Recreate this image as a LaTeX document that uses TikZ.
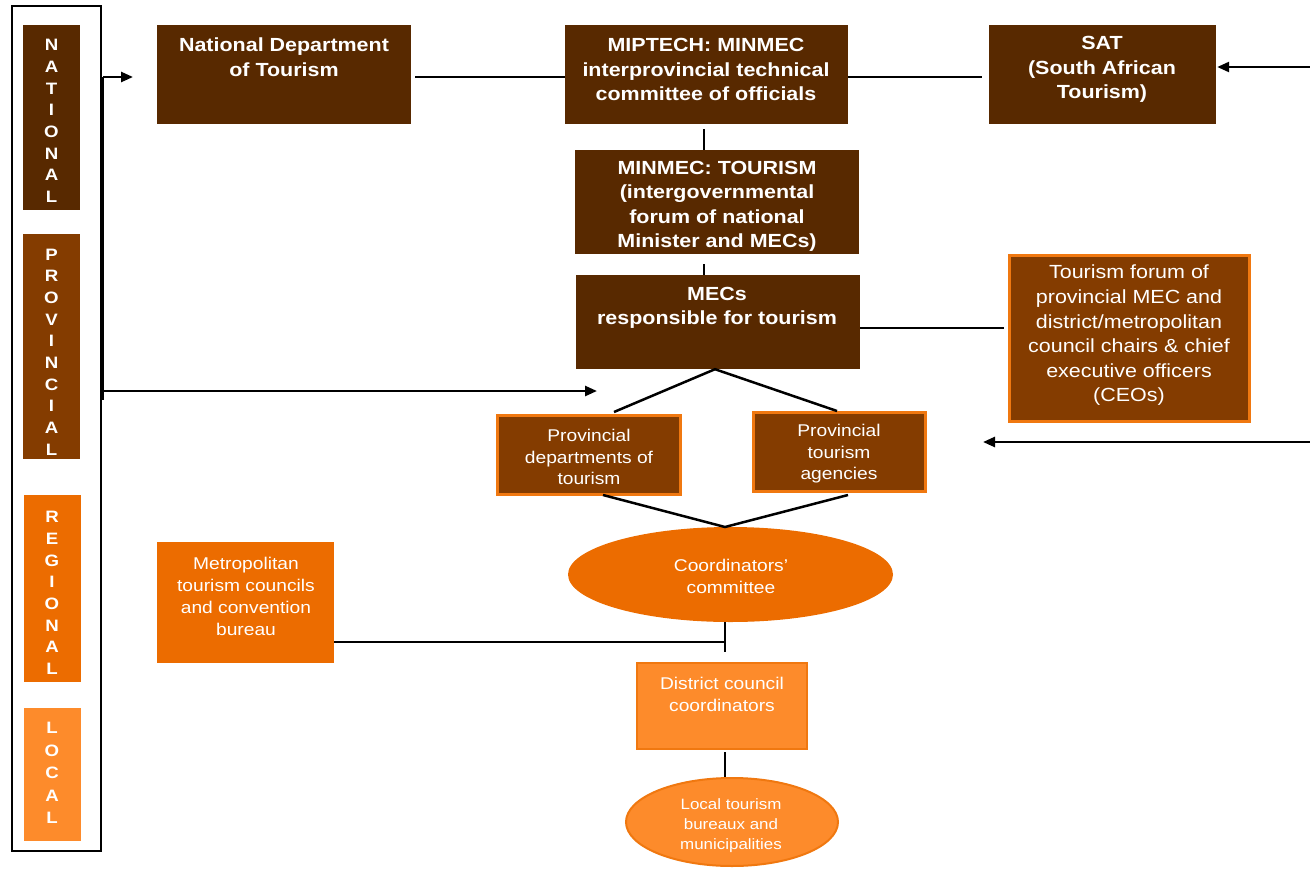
\documentclass[tikz,border=0pt]{standalone}
\usepackage{fontspec}
\setmainfont{Liberation Sans}[FakeStretch=1.13]
\usetikzlibrary{arrows.meta,shapes.geometric,calc}
\definecolor{dbrown}{RGB}{88,41,0}
\definecolor{mbrown}{RGB}{132,60,0}
\definecolor{oran}{RGB}{236,108,0}
\definecolor{lorange}{RGB}{253,139,43}
\definecolor{bord}{RGB}{240,120,16}
\begin{document}
\begin{tikzpicture}[x=1pt,y=-1pt,
  box/.style={rectangle, inner sep=0, draw=none},
  dbox/.style={box, fill=dbrown},
  mbox/.style={box, fill=mbrown, draw=bord, line width=3pt},
  txt/.style={inner sep=0, align=center, text=white},
  bigb/.style={txt, font=\fontsize{19}{24.5}\selectfont\bfseries},
  regt/.style={txt, font=\fontsize{19}{24.6}\selectfont},
  smallt/.style={txt, font=\fontsize{17}{21.5}\selectfont},
  tinyt/.style={txt, font=\fontsize{15}{20}\selectfont},
  lett/.style={txt, font=\fontsize{16.5}{21.7}\selectfont\bfseries},
  conn/.style={line width=2.5pt, black},
  arr/.style={conn, -{Triangle[length=12pt,width=10pt]}}]
\useasboundingbox (0,0) rectangle (1310,868);

% left level column
\node[draw=black, line width=2pt, rectangle, inner sep=0, minimum width=89, minimum height=845] (frame) at (56.5,428.5) {};
\node[box, fill=dbrown, minimum width=57, minimum height=185] (natl) at (51.5,117.5) {};
\node[lett] (natl-t) at (51.5,121) {N\\A\\T\\I\\O\\N\\A\\L};
\node[box, fill=mbrown, minimum width=57, minimum height=225] (prov) at (51.5,346.5) {};
\node[lett] (prov-t) at (51.5,352) {P\\R\\O\\V\\I\\N\\C\\I\\A\\L};
\node[box, fill=oran, minimum width=57, minimum height=187] (regl) at (52,588.5) {};
\node[lett] (regl-t) at (52,593) {R\\E\\G\\I\\O\\N\\A\\L};
\node[box, fill=lorange, minimum width=57, minimum height=133] (locl) at (52,774.5) {};
\node[lett, font=\fontsize{16.5}{22.5}\selectfont\bfseries] (locl-t) at (52,773) {L\\O\\C\\A\\L};

% national level
\node[dbox, minimum width=254, minimum height=99] (nat) at (284,74.5) {};
\node[bigb] (nat-t) at (284,57) {National Department\\of Tourism};
\node[dbox, minimum width=283, minimum height=99] (mip) at (706.5,74.5) {};
\node[bigb] (mip-t) at (706,69.5) {MIPTECH: MINMEC\\interprovincial technical\\committee of officials};
\node[dbox, minimum width=227, minimum height=99] (sat) at (1102.5,74.5) {};
\node[bigb] (sat-t) at (1102,69.5) {SAT\\(South African\\Tourism)};
\node[dbox, minimum width=284, minimum height=104] (minmec) at (717,202) {};
\node[bigb] (minmec-t) at (717,206.5) {MINMEC: TOURISM\\(intergovernmental\\forum of national\\Minister and MECs)};
\node[dbox, minimum width=284, minimum height=94] (mecs) at (718,322) {};
\node[bigb] (mecs-t) at (717,308) {MECs\\responsible for tourism};

% provincial level
\node[mbox, minimum width=240, minimum height=166] (forum) at (1129.5,338.5) {};
\node[regt] (forum-t) at (1129,335.5) {Tourism forum of\\provincial MEC and\\district/metropolitan\\council chairs \& chief\\executive officers\\(CEOs)};
\node[mbox, minimum width=183, minimum height=79] (pd) at (589,455) {};
\node[smallt] (pd-t) at (589,457) {Provincial\\departments of\\tourism};
\node[mbox, minimum width=172, minimum height=79] (pa) at (839.5,452) {};
\node[smallt] (pa-t) at (839,454) {Provincial\\tourism\\agencies};

% regional level
\node[ellipse, inner sep=0, fill=oran, minimum width=325, minimum height=95] (coord) at (730.5,574.5) {};
\node[smallt] (coord-t) at (731,576.5) {Coordinators’\\committee};
\node[box, fill=oran, minimum width=177, minimum height=121] (metro) at (245.5,602.5) {};
\node[smallt, font=\fontsize{17}{22}\selectfont] (metro-t) at (246,596) {Metropolitan\\tourism councils\\and convention\\bureau};

% local level
\node[box, fill=lorange, draw=bord, line width=2pt, minimum width=170, minimum height=86] (dist) at (722,706) {};
\node[smallt, font=\fontsize{17}{22}\selectfont] (dist-t) at (722,694) {District council\\coordinators};
\node[ellipse, inner sep=0, fill=lorange, draw=bord, line width=2pt, minimum width=212, minimum height=88] (local) at (732,822) {};
\node[tinyt] (local-t) at (731,826) {Local tourism\\bureaux and\\municipalities};

% helper coordinates
\coordinate (vx) at (704,0);
\coordinate (lvtop) at (103,77);
\coordinate (lvbot) at (103,400);
\coordinate (lvmid) at (103,391);
\coordinate (natarr) at (133,77);
\coordinate (provarr) at (597,391);
\coordinate (satin) at (1310,67);
\coordinate (provin) at (1310,442);
\coordinate (provtip) at (983,442);
\coordinate (hy1) at (0,328);
\coordinate (pdtop) at (614,412);
\coordinate (patop) at (837,411);
\coordinate (pdbot) at (603,495);
\coordinate (pabot) at (848,495);
\coordinate (apex) at (725,527);
\coordinate (hy2) at (0,642);
\coordinate (tee) at (725,642);
\coordinate (teebot) at (725,652);
\coordinate (teetop) at (725,622);
\coordinate (dx) at (725,0);

% connectors
\draw[conn] (lvtop) -- (lvbot);
\draw[arr] (lvtop) -- (natarr);
\draw[arr] (lvmid) -- (provarr);
\draw[conn, shorten <=4pt] (nat.east |- 0,77) -- (mip.west |- 0,77);
\draw[conn, shorten >=7pt] (mip.east |- 0,77) -- (sat.west |- 0,77);
\draw[arr] (satin) -- ([xshift=1pt]sat.east |- satin);
\draw[conn] ([yshift=-5pt]mip.south -| vx) -- (minmec.north -| vx);
\draw[conn] ([yshift=-10pt]minmec.south -| vx) -- (mecs.north -| vx);
\draw[conn, shorten >=4pt] (mecs.east |- hy1) -- (forum.west |- hy1);
\draw[arr] (provin) -- (provtip);
\draw[conn] (pdtop) -- (mecs.south -| 715,0) -- (patop);
\draw[conn] (pdbot) -- (apex) -- (pabot);
\draw[conn] (metro.east |- hy2) -- (tee);
\draw[conn] (teetop) -- (teebot);
\draw[conn] ([yshift=-2pt]dist.south -| dx) -- (local.north -| dx);
\end{tikzpicture}
\end{document}
